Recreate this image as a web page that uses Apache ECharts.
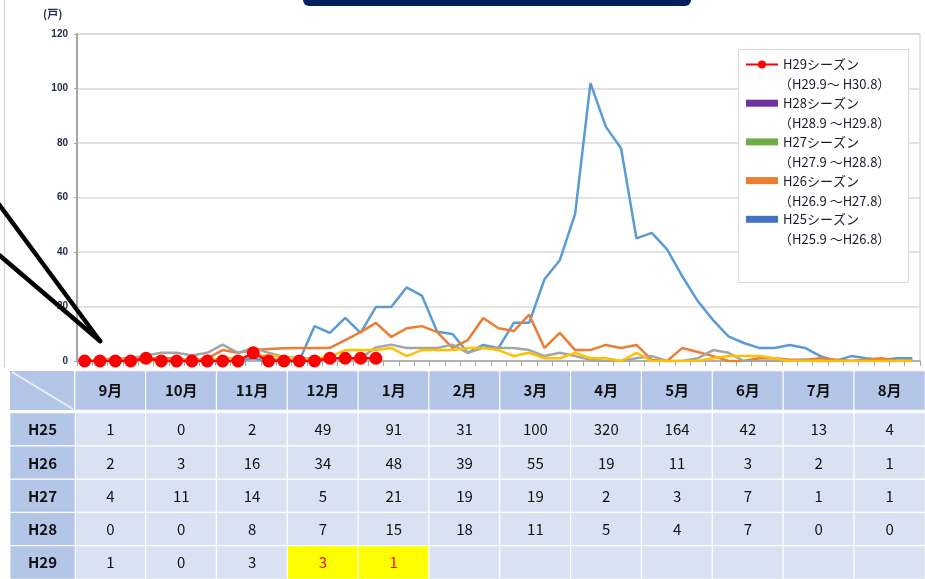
<!DOCTYPE html>
<html><head><meta charset="utf-8">
<script src="https://cdn.jsdelivr.net/npm/echarts@6/dist/echarts.min.js"></script>
<style>html,body{margin:0;padding:0;background:#fff}#c{width:925px;height:579px}</style>
</head><body><div id="c"></div>
<script>
// ---- weekly chart data (55 weeks, Sep -> Aug) ----
const weeks = Array.from({length:55}, (_, i) => 'W' + (i + 1));
const h25 = [0,0,0,0,1, 0,0,0,0, 0,0,1,0,1, 0,12.8,10.3,15.8,10.3, 19.8,19.8,27,24, 10.7,9.9,3,5.9, 4.8,14,14,30,37, 54,102,86,78, 45,47,41,31, 22,15,9,6.6, 4.8,4.8,5.9,4.8, 1.8,0,1.8,1,0.4,1,1];
const h26 = [0,0,1,0,1, 1,1,0,1, 4,3,4,4.4,4.7, 4.8,4.8,4.8,7.7,10.6, 14,8.8,12,12.8, 10.6,4.8,7.7,15.8, 12,11,17,4.8,10.3, 4,4,5.9,4.8, 5.9,0.4,0,4.8, 3.3,1.8,0,0, 1,1,0.5,0.5, 1,0.5,0,0.5,1,0,0];
const h27 = [0,0,1,1,2, 3,3,2,3, 6,3,4.8,3,1.5, 1,1,1,1,1, 5,6,4.8,4.8, 4.8,6,3,4.8, 4.8,4.8,4,1.8,3, 1.8,0.4,0,0, 1,1.8,0,0, 1,4,3,0, 0,0,0,0.5, 0,0,0,0,0,0,0.5];
const h28 = [0,0,0,0,0, 0,0,0,0, 1,1,2,2,1.5, 0.5,1,1.5,4,4, 4,4.8,1.8,4, 4,4,4.8,4.8, 4,1.8,3,1,1, 3,1,1,0, 3,0,0,0, 0,1,1.8,1.8, 1.8,1,0,0, 0,0,0,0,0,0,0];
const h29 = [0,0,0,0,1, 0,0,0,0, 0,0,3,0,0, 0,0,1,1,1,1];
const yTicks = [0, 20, 40, 60, 80, 100, 120];

// ---- table data ----
const months = ['9月','10月','11月','12月','1月','2月','3月','4月','5月','6月','7月','8月'];
const rowNames = ['H25','H26','H27','H28','H29'];
const t25 = [1,0,2,49,91,31,100,320,164,42,13,4];
const t26 = [2,3,16,34,48,39,55,19,11,3,2,1];
const t27 = [4,11,14,5,21,19,19,2,3,7,1,1];
const t28 = [0,0,8,7,15,18,11,5,4,7,0,0];
const t29 = [1,0,3,3,1,null,null,null,null,null,null,null];
const highlighted = [[4,3],[4,4]]; // [row, col]

const seriesSub = {'H29シーズン':'（H29.9～ H30.8）','H28シーズン':'（H28.9 ～H29.8）','H27シーズン':'（H27.9 ～H28.8）','H26シーズン':'（H26.9 ～H27.8）','H25シーズン':'（H25.9 ～H26.8）'};

const HEAD = '#b4c6e7', CELL = '#d9e2f3';
const tableRows = [t25, t26, t27, t28, t29];
const cellData = [];
tableRows.forEach((row, r) => {
  row.forEach((v, c) => {
    const hi = highlighted.some(h => h[0] === r && h[1] === c);
    cellData.push({value: [c, r, v == null ? 0 : v], txt: v == null ? '' : String(v),
      itemStyle: {color: hi ? '#ffff00' : CELL}, label: {color: hi ? '#ff0000' : '#111'}});
  });
});
const headData = months.map((m, c) => ({value: [c, 0, 0], txt: m, itemStyle: {color: HEAD}}));
const rowHeadData = rowNames.map((n, r) => ({value: [0, r, 0], txt: n, itemStyle: {color: HEAD}}));

const chart = echarts.init(document.getElementById('c'));
const lineBase = {type: 'line', xAxisIndex: 0, yAxisIndex: 0, showSymbol: false, symbol: 'none', lineStyle: {width: 2.5}, silent: true, animation: false};
const cellFont = "'Noto Sans CJK JP',sans-serif";

chart.setOption({
  animation: false,
  grid: [
    {left: 77, top: 34, width: 843, height: 327, show: true, borderColor: '#c8c8c8', borderWidth: 1},
    {left: 75, top: 413, width: 854.4, height: 170},
    {left: 75, top: 371, width: 854.4, height: 39},
    {left: 10, top: 413, width: 65, height: 170}
  ],
  xAxis: [
    {gridIndex: 0, type: 'category', data: weeks, boundaryGap: true,
      axisLine: {lineStyle: {color: '#a6a6a6', width: 1.5}},
      axisTick: {show: true, interval: 0, length: 5, lineStyle: {color: '#a6a6a6'}},
      axisLabel: {show: false}, splitLine: {show: false}},
    {gridIndex: 1, type: 'category', data: months, show: false},
    {gridIndex: 2, type: 'category', data: months, show: false},
    {gridIndex: 3, type: 'category', data: [''], show: false}
  ],
  yAxis: [
    {gridIndex: 0, type: 'value', min: 0, max: 120, interval: 20,
      axisLine: {show: true, lineStyle: {color: '#a6a6a6', width: 2}},
      axisTick: {show: true, length: 3, lineStyle: {color: '#a6a6a6'}},
      axisLabel: {margin: 9, fontSize: 10, fontWeight: 'bold', color: '#1f2a4f', fontFamily: 'Liberation Sans',
        formatter: v => yTicks.includes(v) ? String(v) : ''},
      splitLine: {lineStyle: {color: '#d9d9d9', width: 1.5}}},
    {gridIndex: 1, type: 'category', data: rowNames, inverse: true, show: false},
    {gridIndex: 2, type: 'category', data: [''], show: false},
    {gridIndex: 3, type: 'category', data: rowNames, inverse: true, show: false}
  ],
  legend: {
    left: 745, top: 38, orient: 'vertical', padding: 0, itemGap: -14.3, z: 6,
    itemWidth: 32, itemHeight: 10, selectedMode: false,
    data: [
      {name: 'H29シーズン'},
      {name: 'H28シーズン', icon: 'path://M0,0H32V7H0Z', itemStyle: {color: '#7030a0'}},
      {name: 'H27シーズン', icon: 'path://M0,0H32V7H0Z', itemStyle: {color: '#70ad47'}},
      {name: 'H26シーズン', icon: 'path://M0,0H32V7H0Z', itemStyle: {color: '#ed7d31'}},
      {name: 'H25シーズン', icon: 'path://M0,0H32V7H0Z', itemStyle: {color: '#4472c4'}}
    ],
    formatter: n => '{s| }\n{a|' + n + '}\n{b|' + seriesSub[n] + '}',
    textStyle: {fontFamily: "'Noto Sans CJK JP',sans-serif", fontSize: 13, color: '#1a1a2e',
      rich: {s: {lineHeight: 20, fontSize: 13}, a: {lineHeight: 20, fontSize: 13, color: '#1a1a2e'}, b: {lineHeight: 20, fontSize: 13, color: '#1a1a2e', padding: [0, 0, 0, -4]}}}
  },
  graphic: [
    {type: 'rect', z: 100, shape: {x: 303, y: -10, width: 388, height: 16, r: 6}, style: {fill: '#001f5c'}},
    {type: 'line', z: 100, shape: {x1: 4.5, y1: 0, x2: 4.5, y2: 367}, style: {stroke: '#d0d0d0', lineWidth: 1}},
    {type: 'rect', z: 5, shape: {x: 738.5, y: 49.5, width: 170, height: 233}, style: {fill: '#fff', stroke: '#d9d9d9', lineWidth: 1}},
    {type: 'text', z: 100, left: 43, top: 8, style: {text: '(戸)', font: "bold 11px 'Noto Sans CJK JP'", fill: '#1f2a4f'}},
    {type: 'line', z: 100, shape: {x1: -2, y1: 203, x2: 100, y2: 341}, style: {stroke: '#000', lineWidth: 4.5, lineCap: 'round'}},
    {type: 'line', z: 100, shape: {x1: -2, y1: 254, x2: 100, y2: 341}, style: {stroke: '#000', lineWidth: 4.5, lineCap: 'round'}},
    {type: 'rect', z: 1, shape: {x: 10, y: 371, width: 64, height: 39}, style: {fill: HEAD}},
    {type: 'line', z: 2, shape: {x1: 12, y1: 372, x2: 73, y2: 409}, style: {stroke: '#eef2fa', lineWidth: 1.5}}
  ],
  series: [
    Object.assign({}, lineBase, {name: 'H25シーズン', data: h25, color: '#5b9bd5', z: 2}),
    Object.assign({}, lineBase, {name: 'H26シーズン', data: h26, color: '#ed7d31', z: 2}),
    Object.assign({}, lineBase, {name: 'H27シーズン', data: h27, color: '#a5a5a5', z: 2}),
    Object.assign({}, lineBase, {name: 'H28シーズン', data: h28, color: '#ffc000', z: 2}),
    {type: 'line', name: 'H29シーズン', data: h29, xAxisIndex: 0, yAxisIndex: 0, color: '#ff0000', z: 3,
      symbol: 'circle', symbolSize: 13, showSymbol: true, showAllSymbol: true, lineStyle: {width: 2.5}, itemStyle: {color: '#ff0000'}, silent: true},
    {type: 'heatmap', xAxisIndex: 1, yAxisIndex: 1, data: cellData, silent: true,
      itemStyle: {borderColor: '#fff', borderWidth: 1.2},
      label: {show: true, formatter: p => p.data.txt, fontSize: 15, fontFamily: cellFont}},
    {type: 'heatmap', xAxisIndex: 2, yAxisIndex: 2, data: headData, silent: true,
      itemStyle: {borderColor: '#fff', borderWidth: 1.2},
      label: {show: true, formatter: p => p.data.txt, fontSize: 15, fontWeight: 'bold', color: '#111', fontFamily: cellFont}},
    {type: 'heatmap', xAxisIndex: 3, yAxisIndex: 3, data: rowHeadData, silent: true,
      itemStyle: {borderColor: '#fff', borderWidth: 1.2},
      label: {show: true, formatter: p => p.data.txt, fontSize: 15, fontWeight: 'bold', color: '#111', fontFamily: cellFont}}
  ]
});
</script></body></html>
